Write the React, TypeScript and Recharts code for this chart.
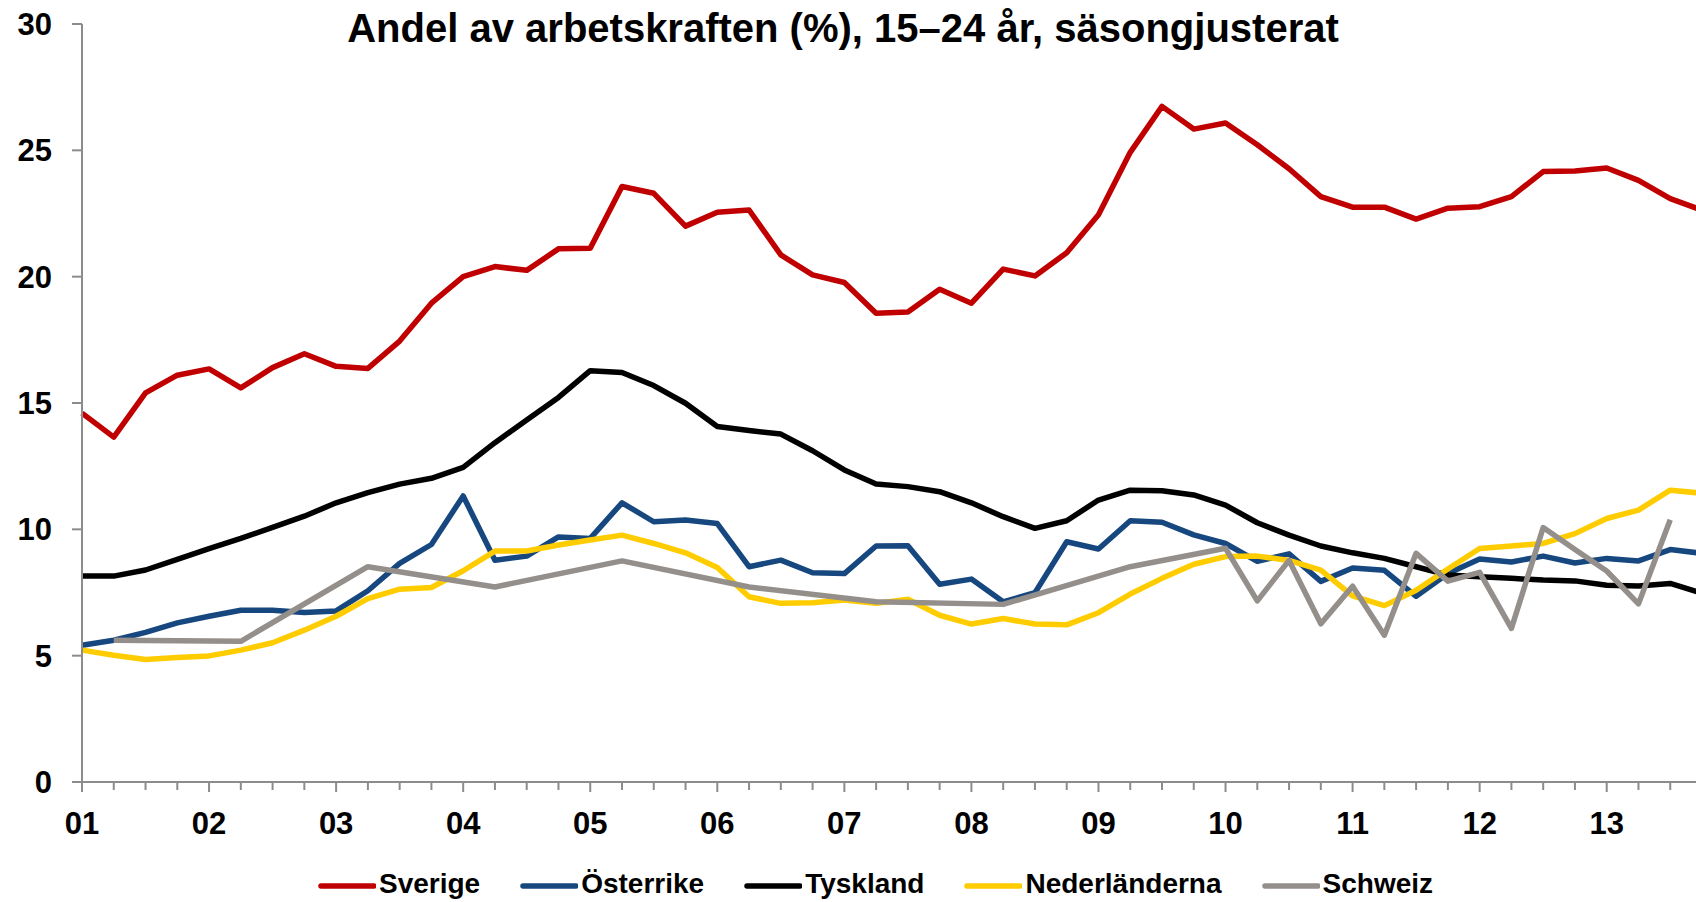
import React from "react";
import { LineChart, Line, XAxis, YAxis } from "recharts";

// Quarterly youth unemployment, 2001Q1 - 2013Q4 (the last quarter is cut off at the right edge)
const years = ["01", "02", "03", "04", "05", "06", "07", "08", "09", "10", "11", "12", "13"];
const yTicks = [0, 5, 10, 15, 20, 25, 30];

const sverige = [
  14.6, 13.65, 15.4, 16.1, 16.35, 15.6, 16.4, 16.95, 16.45, 16.37, 17.45, 18.95,
  20.0, 20.4, 20.25, 21.1, 21.12, 23.57, 23.3, 22.0, 22.55, 22.64, 20.86, 20.07,
  19.77, 18.55, 18.6, 19.5, 18.95, 20.3, 20.03, 20.95, 22.45, 24.92, 26.74, 25.84,
  26.08, 25.22, 24.27, 23.17, 22.75, 22.75, 22.28, 22.71, 22.77, 23.17, 24.16, 24.18,
  24.3, 23.81, 23.09, 22.63,
];
const osterrike = [
  5.41, 5.61, 5.92, 6.3, 6.56, 6.8, 6.8, 6.71, 6.77, 7.57, 8.65, 9.4,
  11.32, 8.78, 8.94, 9.7, 9.64, 11.05, 10.3, 10.37, 10.23, 8.52, 8.78, 8.28,
  8.25, 9.34, 9.35, 7.83, 8.03, 7.13, 7.49, 9.51, 9.22, 10.34, 10.28, 9.78,
  9.44, 8.73, 9.03, 7.94, 8.47, 8.38, 7.35, 8.25, 8.83, 8.71, 8.94, 8.67,
  8.85, 8.75, 9.2, 9.05,
];
const tyskland = [
  8.15, 8.15, 8.39, 8.81, 9.24, 9.64, 10.08, 10.52, 11.05, 11.45, 11.79, 12.02,
  12.45, 13.43, 14.33, 15.22, 16.28, 16.21, 15.69, 14.99, 14.07, 13.91, 13.77, 13.11,
  12.35, 11.79, 11.69, 11.49, 11.05, 10.5, 10.04, 10.34, 11.16, 11.55, 11.53, 11.36,
  10.96, 10.26, 9.77, 9.34, 9.07, 8.85, 8.52, 8.19, 8.12, 8.06, 7.99, 7.96,
  7.79, 7.76, 7.86, 7.47,
];
const nederlanderna = [
  5.22, 5.02, 4.85, 4.93, 4.99, 5.22, 5.51, 6.01, 6.56, 7.26, 7.63, 7.7,
  8.36, 9.14, 9.14, 9.38, 9.58, 9.77, 9.44, 9.07, 8.49, 7.33, 7.07, 7.09,
  7.2, 7.07, 7.23, 6.6, 6.25, 6.47, 6.25, 6.22, 6.7, 7.44, 8.06, 8.62,
  8.92, 8.94, 8.77, 8.39, 7.37, 6.98, 7.59, 8.43, 9.24, 9.34, 9.44, 9.83,
  10.43, 10.76, 11.55, 11.43,
];
// annual figures (Q2) until 2009, quarterly from 2010
const schweiz = [
  null, 5.61, null, null,
  null, 5.57, null, null,
  null, 8.52, null, null,
  null, 7.72, null, null,
  null, 8.75, null, null,
  null, 7.72, null, null,
  null, 7.13, null, null,
  null, 7.03, null, null,
  null, 8.52, null, null,
  9.25, 7.17, 8.77, 6.26,
  7.75, 5.81, 9.05, 7.95,
  8.3, 6.08, 10.07, 9.2,
  8.35, 7.05, 10.38, null,
];

const series = [
  { key: "Sverige", values: sverige, color: "#C00000" },
  { key: "Österrike", values: osterrike, color: "#17477F" },
  { key: "Tyskland", values: tyskland, color: "#000000" },
  { key: "Nederländerna", values: nederlanderna, color: "#FFCC00" },
  { key: "Schweiz", values: schweiz, color: "#958F8B" },
];

const periods = years.flatMap((y) => [1, 2, 3, 4].map((q) => `${y}:${q}`));

const rows = periods.map((period, i) => {
  const row: Record<string, any> = { period };
  series.forEach((s) => {
    row[s.key] = s.values[i];
  });
  return row;
});

const font = "'Liberation Sans', Arial, sans-serif";
const axisColor = "#8C8C8C";

const QuarterTick = (props: any) => {
  const { x, y, payload } = props;
  const [yr, q] = String(payload.value).split(":");
  const isYear = q === "1";
  return (
    <g>
      <line x1={x} x2={x} y1={y} y2={y + (isYear ? 10 : 8)} stroke={axisColor} strokeWidth={2} />
      {isYear && (
        <text x={x} y={y + 52} textAnchor="middle" fill="#000" fontSize={31} fontWeight={700} fontFamily={font}>
          {yr}
        </text>
      )}
    </g>
  );
};

export default function App() {
  return (
    <div
      style={{
        position: "fixed",
        left: 0,
        top: 0,
        width: 1696,
        height: 902,
        overflow: "hidden",
        background: "#fff",
      }}
    >
      <LineChart width={1702} height={902} data={rows} margin={{ top: 24, right: 0, bottom: 0, left: 0 }}>
        <XAxis
          dataKey="period"
          interval={0}
          height={120}
          tickSize={0}
          tickMargin={0}
          tickLine={false}
          axisLine={{ stroke: axisColor, strokeWidth: 2 }}
          tick={<QuarterTick />}
        />
        <YAxis
          type="number"
          domain={[0, 30]}
          ticks={yTicks}
          width={82}
          tickSize={10}
          tickMargin={20}
          axisLine={{ stroke: axisColor, strokeWidth: 2 }}
          tickLine={{ stroke: axisColor, strokeWidth: 2 }}
          tick={{ fill: "#000", fontSize: 31, fontWeight: 700, fontFamily: font }}
        />
        {series.map((s) => (
          <Line
            key={s.key}
            dataKey={s.key}
            stroke={s.color}
            strokeWidth={5.5}
            strokeLinejoin="round"
            dot={false}
            activeDot={false}
            connectNulls
            isAnimationActive={false}
          />
        ))}
      </LineChart>

      <div
        style={{
          position: "absolute",
          left: 843,
          top: 8,
          transform: "translateX(-50%)",
          whiteSpace: "nowrap",
          fontFamily: font,
          fontWeight: 700,
          fontSize: 40,
          lineHeight: "40px",
          color: "#000",
        }}
      >
        Andel av arbetskraften (%), 15–24 år, säsongjusterat
      </div>

      <div
        style={{
          position: "absolute",
          left: 318,
          top: 870,
          display: "flex",
          alignItems: "center",
          fontFamily: font,
          fontWeight: 700,
          fontSize: 28,
          lineHeight: "28px",
          color: "#000",
          whiteSpace: "nowrap",
        }}
      >
        {series.map((s, i) => (
          <div key={s.key} style={{ display: "flex", alignItems: "center", marginLeft: i === 0 ? 0 : 40 }}>
            <svg width={58} height={28} style={{ display: "block" }}>
              <line x1={3} x2={56} y1={16} y2={16} stroke={s.color} strokeWidth={5.5} strokeLinecap="round" />
            </svg>
            <span style={{ marginLeft: 3 }}>{s.key}</span>
          </div>
        ))}
      </div>
    </div>
  );
}
